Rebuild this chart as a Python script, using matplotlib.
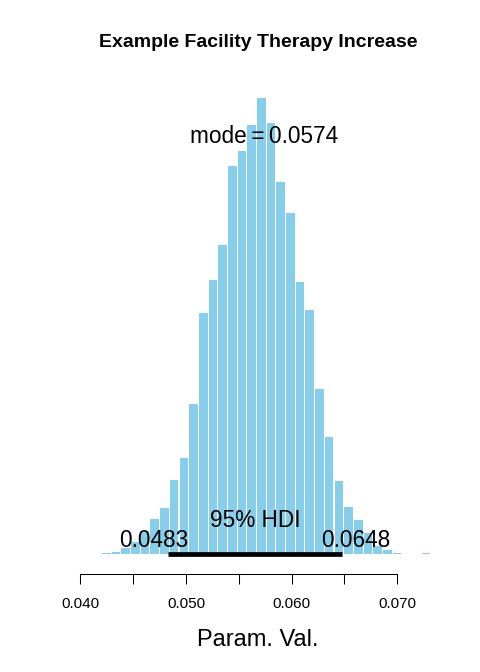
"""
Posterior: Example Facility Therapy Increase
Histograma da amostra MCMC com moda e 95% HDI
"""

import numpy as np
import matplotlib.pyplot as plt
import matplotlib.transforms as mtransforms

plt.rcParams['font.family'] = ['Liberation Sans', 'DejaVu Sans']

# Dados
titulo = 'Example Facility Therapy Increase'
moda = 0.0574
hdi = [0.0483, 0.0648]
inicio_bins = 0.04201
largura_bin = (hdi[1] - hdi[0]) / 18   # como no plotPost
densidade = [0.22, 0.56, 1.41, 2.64, 5.06, 7.56, 9.99, 15.99, 20.70, 32.21,
             51.77, 58.78, 66.35, 83.21, 86.49, 92.06, 97.85, 92.36, 79.85,
             73.20, 58.42, 52.42, 35.42, 25.14, 15.71, 10.14, 7.35, 4.56,
             1.78, 0.92, 0.25, 0.0, 0.0, 0.25]
ticks = [0.040, 0.045, 0.050, 0.055, 0.060, 0.065, 0.070]
tick_labels = ['0.040', '', '0.050', '', '0.060', '', '0.070']

# =============================================================================
# FIGURA
# =============================================================================
fig = plt.figure(figsize=(4.8, 6.72), dpi=100)
ax = fig.add_axes([0.15625, 0.14539, 0.7706, 0.73646])

centros = inicio_bins + largura_bin * (np.arange(len(densidade)) + 0.5)
ax.bar(centros, densidade, width=largura_bin * 0.89, color='skyblue',
       edgecolor='none', linewidth=0)

ax.set_xlim(0.0395, 0.0745)
ax.set_ylim(-4.285, 101.76)

# HDI
ax.plot(hdi, [0, 0], color='black', linewidth=3.4, solid_capstyle='butt')
ax.text(np.mean(hdi), 5.91, '95% HDI', ha='center', va='baseline', fontsize=16.3)
ax.text(0.04691, 1.63, f'{hdi[0]:.4f}', ha='center', va='baseline', fontsize=16.3)
ax.text(0.06603, 1.63, f'{hdi[1]:.4f}', ha='center', va='baseline', fontsize=16.3)

# Moda
ax.text(moda, 88.07, f'mode\u2009=\u2009{moda:.4f}', ha='center', va='baseline',
        fontsize=16.3)

# Eixo x no estilo R
for lado in ['top', 'right', 'left', 'bottom']:
    ax.spines[lado].set_visible(False)
trans = mtransforms.blended_transform_factory(ax.transData, ax.transAxes)
ax.plot([ticks[0], ticks[-1]], [0, 0], color='black', linewidth=0.75,
        transform=trans, clip_on=False)
ax.set_xticks(ticks)
ax.set_xticklabels(tick_labels, fontsize=11)
ax.tick_params(axis='x', direction='out', length=7, width=0.75, pad=9.5)
ax.set_yticks([])

fig.text(258 / 480, 0.9296, titulo, ha='center', va='baseline',
         fontsize=14, fontweight='bold')
fig.text(258 / 480, (672 - 646) / 672, 'Param. Val.', ha='center',
         va='baseline', fontsize=17)

plt.savefig('out.png', dpi=100)
plt.close()
